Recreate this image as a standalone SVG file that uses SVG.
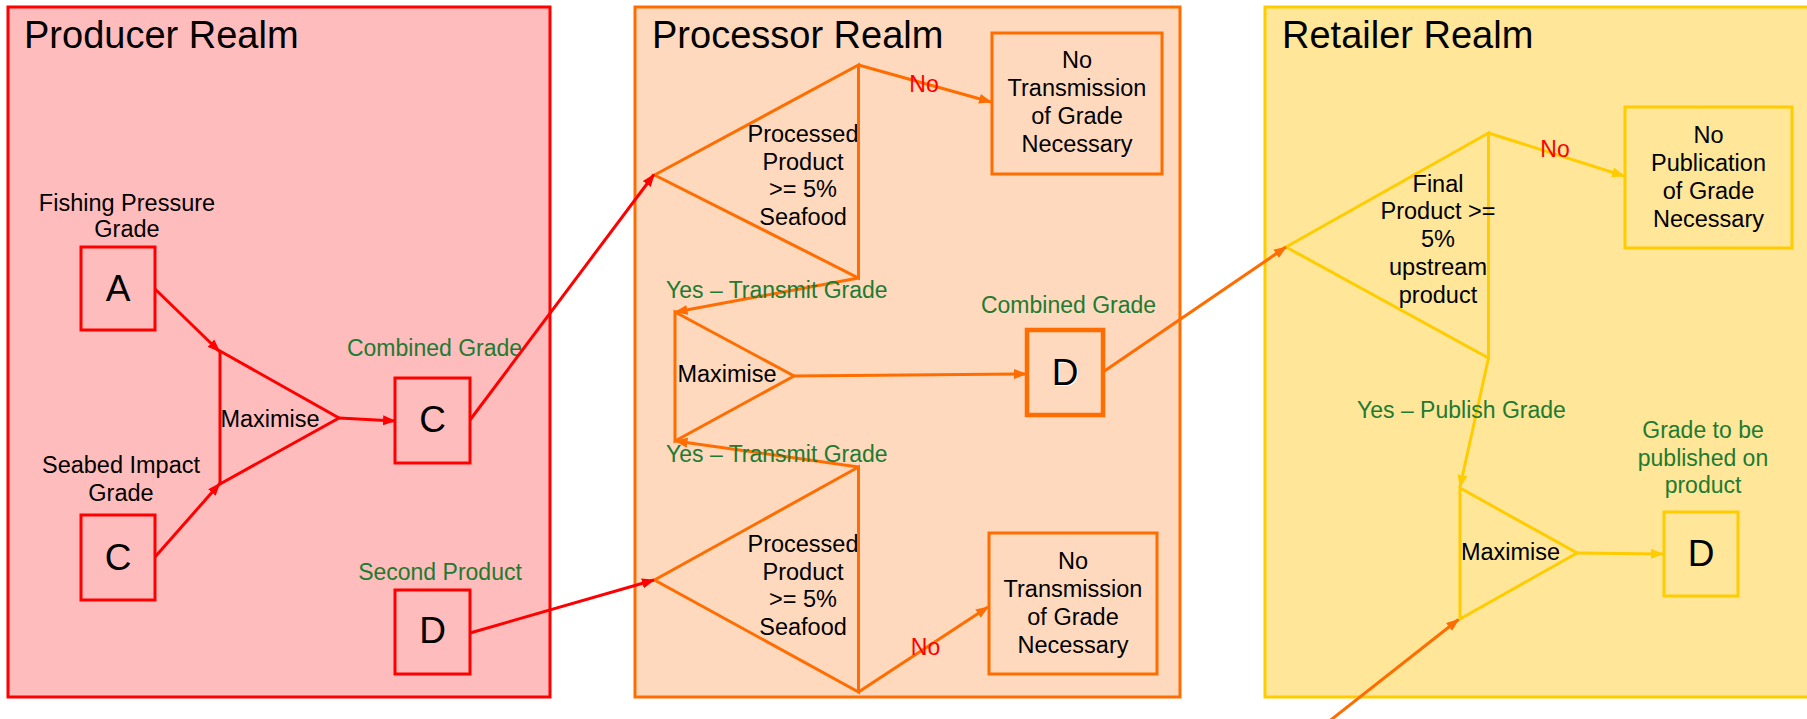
<svg xmlns="http://www.w3.org/2000/svg" width="1807" height="719" viewBox="0 0 1807 719">
  <style>
    text { font-family: "Liberation Sans", Arial, sans-serif; fill: #000; }
    .title { font-size: 38px; }
    .lbl { font-size: 23.5px; text-anchor: middle; }
    .grade { font-size: 37px; text-anchor: middle; }
    .green { font-size: 23px; fill: #217a31; }
    .no { font-size: 23px; fill: #ff0000; text-anchor: middle; }
    .realm { stroke-width: 3; }
    .node { stroke-width: 3; }
    .red { stroke: #ff0000; fill: #ffbcbc; }
    .orange { stroke: #ff6d00; fill: #ffd9bd; }
    .yellow { stroke: #ffcc00; fill: #ffe699; }
    .link { fill: none; stroke-width: 3; }
  </style>
  <defs>
    <marker id="arrRed" markerUnits="userSpaceOnUse" markerWidth="14" markerHeight="12" refX="12" refY="5" orient="auto">
      <path d="M0,0 L13,5 L0,10 z" fill="#ff0000"/>
    </marker>
    <marker id="arrOrange" markerUnits="userSpaceOnUse" markerWidth="14" markerHeight="12" refX="12" refY="5" orient="auto">
      <path d="M0,0 L13,5 L0,10 z" fill="#ff6d00"/>
    </marker>
    <marker id="arrYellow" markerUnits="userSpaceOnUse" markerWidth="14" markerHeight="12" refX="12" refY="5" orient="auto">
      <path d="M0,0 L13,5 L0,10 z" fill="#ffcc00"/>
    </marker>
    <clipPath id="clipTri1"><rect x="640" y="60" width="217" height="225"/></clipPath>
    <clipPath id="clipTri2"><rect x="640" y="460" width="217" height="240"/></clipPath>
  </defs>

  <!-- realm containers -->
  <g id="producer-realm">
    <rect class="realm red" x="8" y="7" width="542" height="690"/>
    <text class="title" x="24" y="48">Producer Realm</text>
  </g>
  <g id="processor-realm">
    <rect class="realm orange" x="635" y="7" width="545" height="690"/>
    <text class="title" x="652" y="48">Processor Realm</text>
  </g>
  <g id="retailer-realm">
    <rect class="realm yellow" x="1265" y="7" width="560" height="690"/>
    <text class="title" x="1282" y="48">Retailer Realm</text>
  </g>

  <!-- producer nodes -->
  <g id="fishing-grade">
    <text class="lbl" x="127" y="211">Fishing Pressure</text>
    <text class="lbl" x="127" y="237">Grade</text>
    <rect class="node red" x="81" y="247" width="74" height="83"/>
    <text class="grade" x="118" y="301">A</text>
  </g>
  <g id="seabed-grade">
    <text class="lbl" x="121" y="473">Seabed Impact</text>
    <text class="lbl" x="121" y="501">Grade</text>
    <rect class="node red" x="81" y="515" width="74" height="85"/>
    <text class="grade" x="118" y="570">C</text>
  </g>
  <g id="producer-maximise">
    <polygon class="node red" points="220,351 339,418 220,484"/>
    <text class="lbl" x="270" y="427">Maximise</text>
  </g>
  <g id="producer-combined">
    <text class="green" x="434.5" y="356" text-anchor="middle">Combined Grade</text>
    <rect class="node red" x="395" y="378" width="75" height="85"/>
    <text class="grade" x="432.5" y="432">C</text>
  </g>
  <g id="second-product">
    <text class="green" x="440" y="580" text-anchor="middle">Second Product</text>
    <rect class="node red" x="395" y="590" width="75" height="84"/>
    <text class="grade" x="432.5" y="643">D</text>
  </g>

  <!-- processor nodes -->
  <g id="processor-check-1">
    <polygon class="node orange" points="654.5,175 858.5,65 858.5,278"/>
    <g clip-path="url(#clipTri1)">
      <text class="lbl" x="803" y="142">Processed</text>
      <text class="lbl" x="803" y="169.7">Product</text>
      <text class="lbl" x="803" y="197.4">&gt;= 5%</text>
      <text class="lbl" x="803" y="225.1">Seafood</text>
    </g>
  </g>
  <g id="processor-no-1">
    <rect class="node orange" x="992" y="33" width="170" height="141"/>
    <text class="lbl" x="1077" y="68">No</text>
    <text class="lbl" x="1077" y="96">Transmission</text>
    <text class="lbl" x="1077" y="124">of Grade</text>
    <text class="lbl" x="1077" y="152">Necessary</text>
  </g>
  <g id="processor-maximise">
    <polygon class="node orange" points="675,312 794,376 675,441"/>
    <text class="lbl" x="727" y="382">Maximise</text>
  </g>
  <g id="processor-combined">
    <text class="green" x="1068.5" y="313" text-anchor="middle">Combined Grade</text>
    <rect class="orange" stroke-width="4.5" x="1027" y="330" width="76" height="85"/>
    <text class="grade" x="1066" y="386" style="fill:#fff">D</text>
    <text class="grade" x="1065" y="385">D</text>
  </g>
  <g id="processor-check-2">
    <polygon class="node orange" points="858.5,467 654.5,580 858.5,692"/>
    <g clip-path="url(#clipTri2)">
      <text class="lbl" x="803" y="552">Processed</text>
      <text class="lbl" x="803" y="579.7">Product</text>
      <text class="lbl" x="803" y="607.4">&gt;= 5%</text>
      <text class="lbl" x="803" y="635.1">Seafood</text>
    </g>
  </g>
  <g id="processor-no-2">
    <rect class="node orange" x="989" y="533" width="168" height="141"/>
    <text class="lbl" x="1073" y="569">No</text>
    <text class="lbl" x="1073" y="597">Transmission</text>
    <text class="lbl" x="1073" y="625">of Grade</text>
    <text class="lbl" x="1073" y="653">Necessary</text>
  </g>

  <!-- retailer nodes -->
  <g id="retailer-check">
    <polygon class="node yellow" points="1286,247 1488.5,133 1488.5,358"/>
    <text class="lbl" x="1438" y="192">Final</text>
    <text class="lbl" x="1438" y="219">Product &gt;=</text>
    <text class="lbl" x="1438" y="247">5%</text>
    <text class="lbl" x="1438" y="275">upstream</text>
    <text class="lbl" x="1438" y="303">product</text>
  </g>
  <g id="retailer-no">
    <rect class="node yellow" x="1625" y="107" width="167" height="141"/>
    <text class="lbl" x="1708.5" y="143">No</text>
    <text class="lbl" x="1708.5" y="171">Publication</text>
    <text class="lbl" x="1708.5" y="199">of Grade</text>
    <text class="lbl" x="1708.5" y="227">Necessary</text>
  </g>
  <g id="retailer-maximise">
    <polygon class="node yellow" points="1460,488 1577,553 1460,619"/>
    <text class="lbl" x="1510.5" y="560">Maximise</text>
  </g>
  <g id="retailer-published">
    <text class="green" x="1703" y="438" text-anchor="middle">Grade to be</text>
    <text class="green" x="1703" y="466" text-anchor="middle">published on</text>
    <text class="green" x="1703" y="493" text-anchor="middle">product</text>
    <rect class="node yellow" x="1664" y="512" width="74" height="84"/>
    <text class="grade" x="1701" y="566">D</text>
  </g>

  <!-- connectors -->
  <g id="connectors">
    <path class="link" stroke="#ff0000" marker-end="url(#arrRed)" d="M155,289 L219.5,351.5"/>
    <path class="link" stroke="#ff0000" marker-end="url(#arrRed)" d="M155,557 L219.8,483.5"/>
    <path class="link" stroke="#ff0000" marker-end="url(#arrRed)" d="M339,418 L395,421"/>
    <path class="link" stroke="#ff0000" marker-end="url(#arrRed)" d="M470,420 L654,174.5"/>
    <path class="link" stroke="#ff0000" marker-end="url(#arrRed)" d="M470,633 L654,580"/>

    <path class="link" stroke="#ff6d00" marker-end="url(#arrOrange)" d="M858.5,65 L991,102"/>
    <path class="link" stroke="#ff6d00" marker-end="url(#arrOrange)" d="M858.5,278 L675.5,312"/>
    <path class="link" stroke="#ff6d00" marker-end="url(#arrOrange)" d="M794,376 L1026,374"/>
    <path class="link" stroke="#ff6d00" marker-end="url(#arrOrange)" d="M1103,372 L1286,247"/>
    <path class="link" stroke="#ff6d00" marker-end="url(#arrOrange)" d="M858.5,467 L675.5,441"/>
    <path class="link" stroke="#ff6d00" marker-end="url(#arrOrange)" d="M858.5,692 L988,607"/>
    <path class="link" stroke="#ff6d00" marker-end="url(#arrOrange)" d="M1318,730 L1458.5,619.5"/>

    <path class="link" stroke="#ffcc00" marker-end="url(#arrYellow)" d="M1488.5,133 L1624,176"/>
    <path class="link" stroke="#ffcc00" marker-end="url(#arrYellow)" d="M1488.5,358 L1460,487"/>
    <path class="link" stroke="#ffcc00" marker-end="url(#arrYellow)" d="M1577,553 L1663,554"/>

    <text class="no" x="924" y="92">No</text>
    <text class="no" x="925.5" y="655">No</text>
    <text class="no" x="1555" y="157">No</text>
    <text class="green" x="666" y="298">Yes – Transmit Grade</text>
    <text class="green" x="666" y="462">Yes – Transmit Grade</text>
    <text class="green" x="1357" y="418">Yes – Publish Grade</text>
  </g>
</svg>
